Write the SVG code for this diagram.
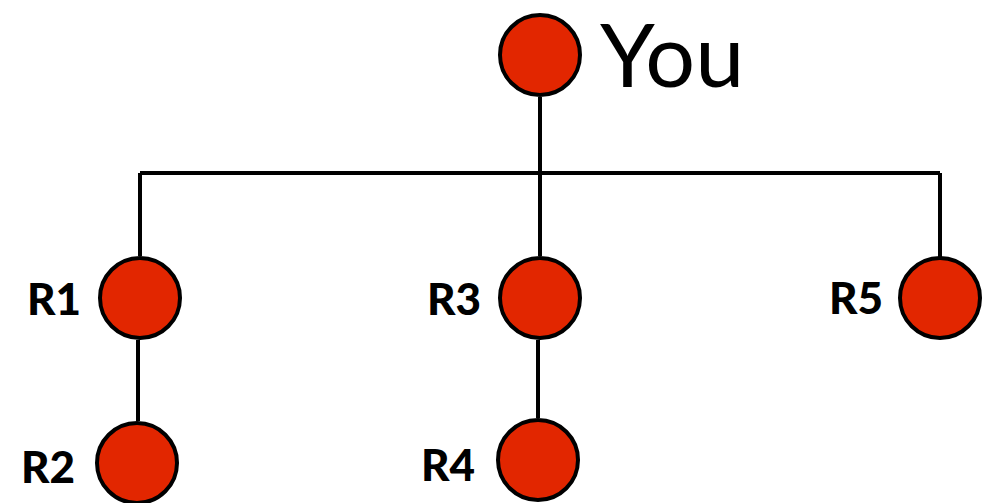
<svg xmlns="http://www.w3.org/2000/svg" width="982" height="503" viewBox="0 0 982 503">
<style>
.node{fill:#e22600;stroke:#000;stroke-width:4}
.edge{fill:none;stroke:#000;stroke-width:4}
.lbl{font-family:Lato,"Open Sans","Liberation Sans",sans-serif;font-weight:900;font-size:44px;fill:#000}
.you{font-family:Lato,"Open Sans","Liberation Sans",sans-serif;font-size:88px;fill:#000}
</style>
<rect width="982" height="503" fill="#fff"/>
<g id="connectors">
<path class="edge" d="M540 97V173M140 173H940M140 173V256M540 173V256M940 173V257M138 340V421M538 340V418"/>
</g>
<g id="you"><circle class="node" cx="540" cy="55" r="40"/><text class="you" x="600" y="87">You</text></g>
<g id="r1"><circle class="node" cx="140" cy="298" r="40"/><text class="lbl" x="27" y="315">R1</text></g>
<g id="r2"><circle class="node" cx="137" cy="463" r="40"/><text class="lbl" x="21" y="483">R2</text></g>
<g id="r3"><circle class="node" cx="540" cy="298" r="40"/><text class="lbl" x="427" y="315">R3</text></g>
<g id="r4"><circle class="node" cx="538" cy="460" r="40"/><text class="lbl" x="421" y="481">R4</text></g>
<g id="r5"><circle class="node" cx="940" cy="298" r="40"/><text class="lbl" x="829" y="314">R5</text></g>
</svg>
